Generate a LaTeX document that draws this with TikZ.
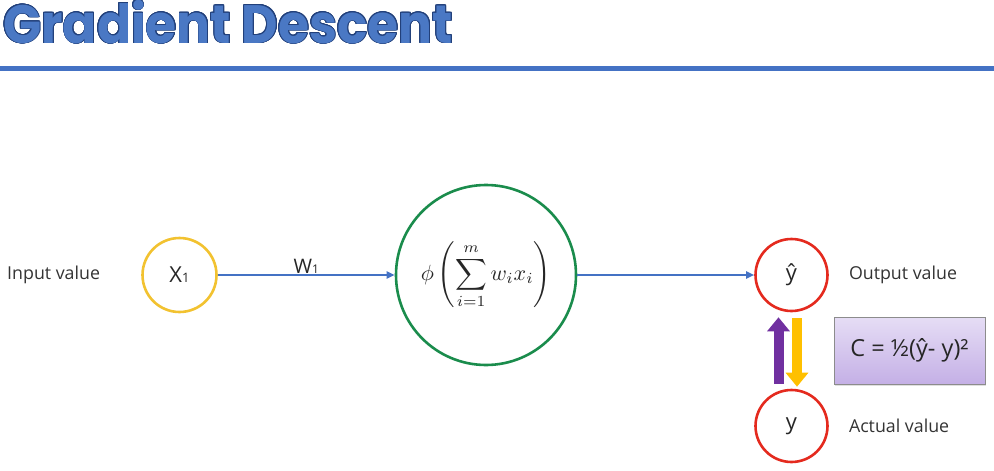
\documentclass[tikz,border=0pt]{standalone}
\usepackage{amsmath}
\usepackage{fontspec}
\setmainfont{Open Sans}
\newfontfamily\titlefont{Poppins}
\usepackage{contour}
\usetikzlibrary{arrows.meta,positioning,shadows}

\definecolor{titleblue}{HTML}{4A78C4}
\definecolor{titleedge}{HTML}{22407A}
\definecolor{linkblue}{HTML}{4472C4}
\definecolor{inyellow}{HTML}{F2C230}
\definecolor{sumgreen}{HTML}{1A8C4C}
\definecolor{outred}{HTML}{E42A1E}
\definecolor{backpurple}{HTML}{7030A0}
\definecolor{fwdyellow}{HTML}{FFC000}
\definecolor{costtop}{HTML}{E6DDF5}
\definecolor{costbot}{HTML}{C4B0E6}

\contourlength{0.9pt}

\begin{document}
\begin{tikzpicture}[x=1pt,y=-1pt,
    neuron/.style={circle, draw, line width=2.6pt, inner sep=0pt, text=black!85},
    caption/.style={font=\fontsize{17.8}{20}\selectfont, text=black!80, inner sep=0pt},
    link/.style={-{Triangle[length=8pt,width=7pt]}, linkblue, line width=1.8pt},
    bigarrow/.style={-{Triangle[length=14pt,width=22pt]}, line width=10pt}
  ]
  \useasboundingbox (0,0) rectangle (994,471);

  % title and rule
  \node[anchor=base west, inner sep=0pt, xscale=0.93] (title) at (3,43)
    {\titlefont\bfseries\fontsize{54}{60}\selectfont\color{titleblue}\contour{titleedge}{Gradient Descent}};
  \draw[linkblue, line width=5pt] (0,68) -- (994,68);

  % neurons
  \node[neuron, draw=inyellow, minimum size=74pt] (in) at (179.5,275)
    {\fontsize{22}{24}\selectfont X{\fontsize{13}{14}\selectfont 1}};
  \node[neuron, draw=sumgreen, minimum size=180pt] (sum) at (486,275)
    {\scalebox{2.2}{$\displaystyle \phi\left(\sum_{i=1}^{m} w_i x_i\right)$}};
  \node[neuron, draw=outred, minimum size=72pt] (out) at (791.5,275)
    {\fontsize{22}{24}\selectfont ŷ};
  \node[neuron, draw=outred, minimum size=72pt] (act) at (791.5,426)
    {\fontsize{22}{24}\selectfont y};

  % captions
  \node[caption, anchor=west] (inlabel) at (7,275) {Input value};
  \node[caption, right=20pt of out] (outlabel) {Output value};
  \node[caption, right=20pt of act] (actlabel) {Actual value};

  % connectors
  \draw[link] (in) -- node[above=1pt, font=\fontsize{20}{22}\selectfont, text=black!85, inner sep=0pt]
    (weight) {W{\fontsize{12}{14}\selectfont 1}} (sum);
  \draw[link] (sum) -- (out);

  % forward / backward
  \draw[bigarrow, backpurple, shorten <=5pt, shorten >=5pt]
    ([xshift=-13pt]act.north) -- ([xshift=-13pt]out.south);
  \draw[bigarrow, fwdyellow, shorten <=6pt, shorten >=2pt]
    ([xshift=5.5pt]out.south) -- ([xshift=5.5pt]act.north);

  % cost
  \node[draw=black!45, line width=0.8pt, top color=costtop, bottom color=costbot,
        drop shadow={opacity=0.25, shadow xshift=1pt, shadow yshift=-1.5pt},
        minimum width=151pt, minimum height=67pt, inner sep=0pt, text=black!85,
        font=\fontsize{23.5}{26}\selectfont] (cost) at (909.5,350.5)
    {C = ½(ŷ- y)²};
\end{tikzpicture}
\end{document}
